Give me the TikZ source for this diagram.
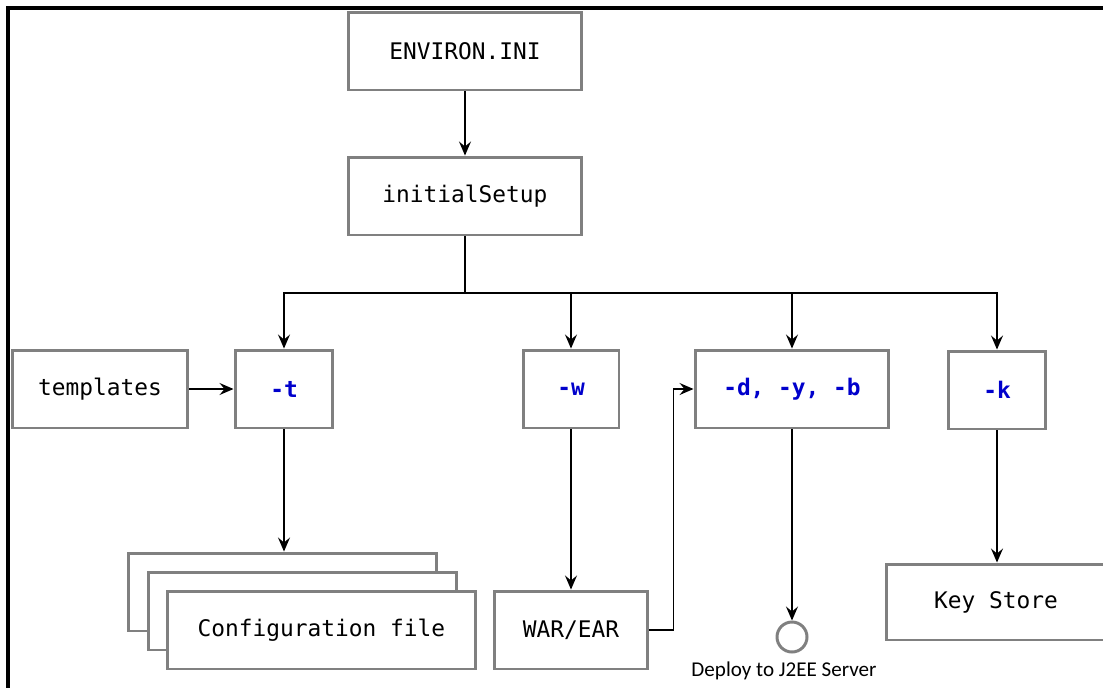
\documentclass[tikz,border=0pt]{standalone}
\usepackage{fontspec}
\setmonofont{DejaVu Sans Mono}
\newfontfamily\captionfont{Carlito}
\usetikzlibrary{arrows.meta}
\definecolor{boxgray}{RGB}{128,128,128}
\definecolor{optblue}{RGB}{0,0,204}

\begin{document}
\begin{tikzpicture}[x=0.02cm, y=-0.02cm,
    box/.style={draw=boxgray, line width=1.7pt, fill=white, inner sep=0pt,
      minimum height=1.56cm, font=\fontsize{13}{15}\selectfont\ttfamily},
    opt/.style={box, text=optblue, font=\fontsize{13}{15}\selectfont\ttfamily\bfseries},
    >={Stealth[length=0.28cm, width=0.24cm, inset=0.1cm]},
    link/.style={->, line width=0.7pt}]
    \useasboundingbox (0,0) rectangle (1103,687);
    \draw[line width=2.3pt] (8,700) -- (8,8) -- (1110,8);

    \node[box, minimum width=4.68cm] (env) at (465,51) {ENVIRON.INI};
    \node[box, minimum width=4.68cm] (setup) at (465,196) {initialSetup};
    \coordinate (bus) at (465,293);

    \node[box, minimum width=3.52cm] (tmpl) at (100,389) {templates};
    \node[opt, minimum width=1.96cm] (optT) at (284,389) {-t};
    \node[opt, minimum width=1.92cm] (optW) at (571,389) {-w};
    \node[opt, minimum width=3.88cm] (optD) at (792,389) {-d, -y, -b};
    \node[opt, minimum width=1.94cm] (optK) at (997,390) {-k};

    % stacked configuration files
    \node[box, minimum width=6.18cm] (cfgBack) at (282.5,592) {};
    \node[box, minimum width=6.18cm] (cfgMid) at (302.5,611) {};
    \node[box, minimum width=6.18cm] (cfgFront) at (321.5,630) {Configuration file};

    \node[box, minimum width=3.08cm] (war) at (571,630) {WAR/EAR};
    \node[draw=boxgray, line width=1.7pt, circle, minimum size=0.6cm, inner sep=0pt] (deploy) at (792,637) {};
    \node[font=\captionfont\fontsize{12}{14}\selectfont] (deployText) at (784,671) {Deploy to J2EE Server};
    \node[box, minimum width=4.4cm, minimum height=1.52cm] (keys) at (996,602) {Key Store};

    \draw[link] (env) -- (setup);
    \draw[link] (setup.south) -- (bus) -| (optT.north);
    \draw[link] (setup.south) -- (bus) -| (optW.north);
    \draw[link] (setup.south) -- (bus) -| (optD.north);
    \draw[link] (setup.south) -- (bus) -| (optK.north);
    \draw[link] (tmpl) -- (optT);
    \draw[link] (optT.south) -- (optT.south |- cfgBack.north);
    \draw[link] (optW.south) -- (war.north);
    \draw[link] (war.east) -- ++(24,0) |- (optD.west);
    \draw[link] (optD.south) -- (deploy.north);
    \draw[link] (optK.south) -- (optK.south |- keys.north);
\end{tikzpicture}
\end{document}
